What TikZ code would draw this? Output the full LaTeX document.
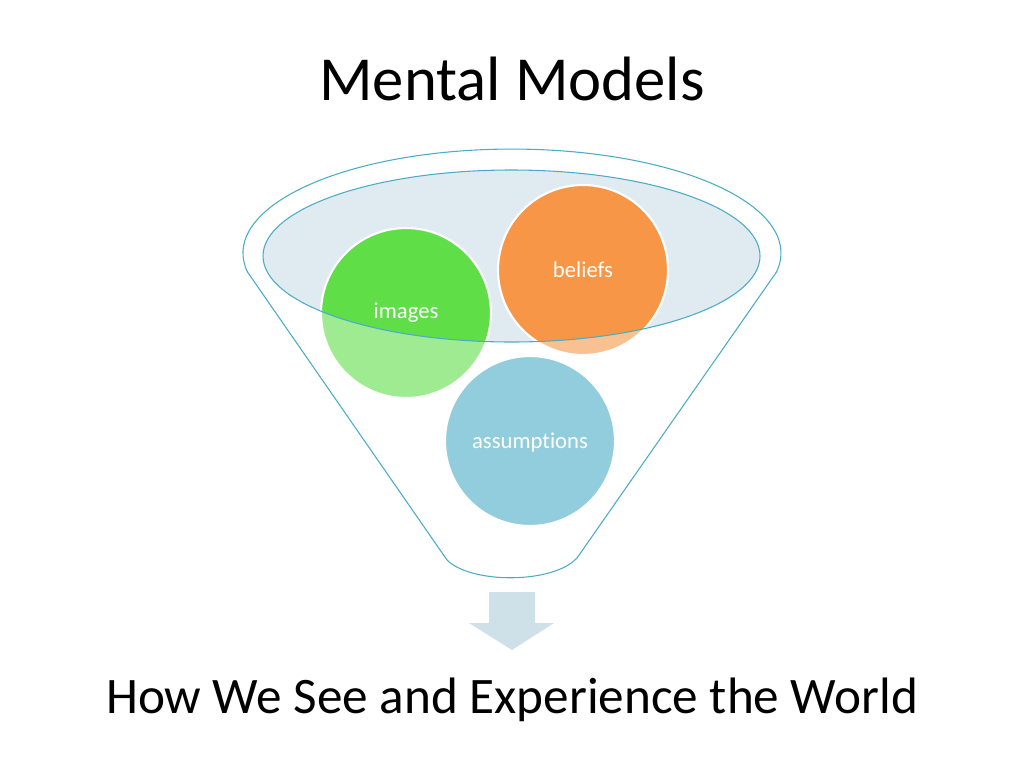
\documentclass[tikz,border=0pt]{standalone}
\usepackage{fontspec}
\setmainfont{Carlito}[Ligatures=NoCommon]
\definecolor{teal}{RGB}{75,172,198}
\definecolor{rimfill}{RGB}{224,234,241}
\definecolor{cgreen}{RGB}{95,222,72}
\definecolor{corange}{RGB}{246,150,70}
\definecolor{cblue}{RGB}{73,172,197}
\definecolor{arrowfill}{RGB}{206,224,232}
\tikzset{
  bubble/.style={circle, draw=white, line width=1.6pt, minimum size=127.5pt, inner sep=0pt},
  lbl/.style={anchor=base, text=white, font=\fontsize{17}{20}\selectfont},
  funnelline/.style={draw=teal, line width=0.8pt},
}
\begin{document}
\begin{tikzpicture}[x=0.75pt,y=-0.75pt]
\useasboundingbox (0,0) rectangle (1024,768);
% rim fill
\fill[rimfill] (511.5,256) ellipse[x radius=248.5, y radius=86];
% circles
\node[bubble, fill=cgreen] (images) at (406,313) {};
\node[bubble, fill=corange] (beliefs) at (583,270) {};
\node[bubble, fill=cblue] (assumptions) at (530,441) {};
% semi-transparent funnel body
\fill[white, fill opacity=0.4, even odd rule]
  (247.5,272) arc[start angle=169.5, end angle=370.5, x radius=269, y radius=104]
  -- (577,558) .. controls (553,584) and (471,584) .. (447,560) -- cycle
  (511.5,256) ellipse[x radius=248.5, y radius=86];
% outlines
\draw[funnelline]
  (247.5,272) arc[start angle=169.5, end angle=370.5, x radius=269, y radius=104]
  -- (577,558) .. controls (553,584) and (471,584) .. (447,560) -- cycle;
\draw[funnelline] (511.5,256) ellipse[x radius=248.5, y radius=86];
% labels
\node[lbl] (limages) at (406,318) {images};
\node[lbl] (lbeliefs) at (583,277) {beliefs};
\node[lbl] (lassumptions) at (530,448) {assumptions};
% arrow
\fill[arrowfill] (489,592) -- (535,592) -- (535,623) -- (554,623) -- (512,650) -- (469,623) -- (489,623) -- cycle;
% texts
\node[anchor=base, font=\fontsize{47}{56}\selectfont] (title) at (512,100) {Mental Models};
\node[anchor=base, font=\fontsize{38.4}{46}\selectfont] (bottom) at (512,713) {How We See and Experience the World};
\end{tikzpicture}
\end{document}
